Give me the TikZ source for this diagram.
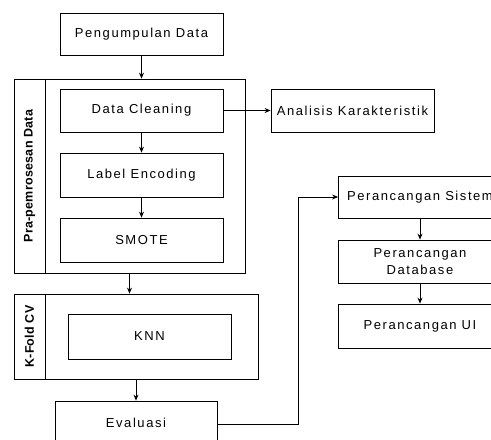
\documentclass[tikz,border=0pt]{standalone}
\usepackage{fontspec}
\setmainfont{Liberation Sans}[LetterSpace=12]
\newfontfamily\lblfont{Liberation Sans}[LetterSpace=2]
\usetikzlibrary{arrows.meta}
\begin{document}
\begin{tikzpicture}[x=1pt,y=-1pt,
  box/.style={draw=black,line width=0.8pt,rectangle,inner sep=0pt,align=center,font=\fontsize{13}{16.5}\selectfont},
  frame/.style={draw=black,line width=0.8pt,rectangle,inner sep=0pt},
  vlbl/.style={draw=black,line width=0.8pt,rectangle,inner sep=0pt,font=\lblfont\bfseries\fontsize{12.5}{14}\selectfont},
  conn/.style={draw=black,line width=0.8pt,-{Stealth[length=6pt,width=5pt]}},
  line/.style={draw=black,line width=0.8pt}]
\useasboundingbox (0,0) rectangle (491,440);
\clip (0,0) rectangle (491,440);
\fill[white] (0,0) rectangle (491,440);
% containers
\node[frame,minimum width=231pt,minimum height=194pt] (prac) at (129.5,176) {};
\node[vlbl,minimum width=31pt,minimum height=194pt] (pral) at (29.5,176) {\rotatebox{90}{Pra-pemrosesan Data}};
\node[frame,minimum width=244pt,minimum height=85pt] (kfc) at (136,336.5) {};
\node[vlbl,minimum width=31pt,minimum height=85pt] (kfl) at (29.5,336.5) {\rotatebox{90}{K-Fold CV}};
% boxes
\node[box,minimum width=163pt,minimum height=42pt] (pd) at (141.5,34) {Pengumpulan Data};
\node[box,minimum width=163pt,minimum height=43pt] (dc) at (141.5,110.5) {Data Cleaning};
\node[box,minimum width=163pt,minimum height=44pt] (le) at (141.5,175) {Label Encoding};
\node[box,minimum width=163pt,minimum height=44pt] (sm) at (141.5,240) {SMOTE};
\node[box,minimum width=163pt,minimum height=45pt] (knn) at (149.5,336.5) {KNN};
\node[box,minimum width=162pt,minimum height=43pt] (ev) at (136,422.5) {Evaluasi};
\node[box,minimum width=163pt,minimum height=43pt] (ak) at (352.5,110.5) {Analisis Karakteristik};
\node[box,minimum width=163pt,minimum height=42pt] (ps) at (420,197) {Perancangan Sistem};
\node[box,minimum width=163pt,minimum height=43pt] (pdb) at (420,261.5) {Perancangan\\Database};
\node[box,minimum width=163pt,minimum height=44pt] (pui) at (420,326) {Perancangan UI};
\coordinate (turn) at (298,424);
% connectors
\draw[conn] (pd.south) -- (pd.south |- prac.north);
\draw[conn] (dc.east) -- (ak.west);
\draw[conn] (dc.south) -- (le.north);
\draw[conn] (le.south) -- (sm.north);
\draw[conn] (prac.south) -- (prac.south |- kfc.north);
\draw[conn] (kfc.south) -- (ev.north);
\draw[conn] (ev.east |- turn) -- (turn) |- (ps.west);
\draw[conn] (ps.south) -- (pdb.north);
\draw[conn] (pdb.south) -- (pui.north);
\end{tikzpicture}
\end{document}
